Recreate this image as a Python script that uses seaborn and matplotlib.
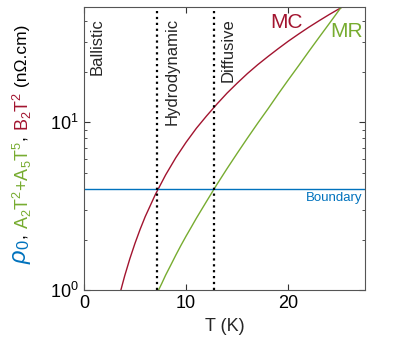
import matplotlib
matplotlib.use('Agg')
import matplotlib.pyplot as plt
import seaborn as sns
import pandas as pd

# values
t_mc = [3.6, 3.8, 4, 4.5, 5, 5.5, 6, 7, 8, 9, 10, 11, 12, 13, 14, 15, 16, 17, 18, 19, 20,
        21, 22, 23, 24, 25, 26]
mc = [0.99, 1.10, 1.22, 1.54, 1.9, 2.30, 2.74, 3.72, 4.86, 6.16, 7.6, 9.2, 10.9, 12.8, 14.9,
      17.1, 19.5, 22.0, 24.6, 27.4, 30.4, 33.5, 36.8, 40.2, 43.8, 47.5, 51.4]
t_mr = [7.3, 7.6, 8, 8.5, 9, 9.5, 10, 10.5, 11, 11.5, 12, 12.7, 13, 14, 15, 16, 17, 18, 19,
        20, 21, 22, 23, 24, 25, 26]
mr = [1.0, 1.09, 1.23, 1.41, 1.62, 1.85, 2.10, 2.37, 2.68, 3.01, 3.38, 3.97, 4.25, 5.29, 6.54,
      8.05, 9.86, 12.0, 14.7, 17.9, 21.7, 26.4, 32.0, 38.7, 46.9, 56.7]
boundary = 4.0
regime_edges = [7.2, 12.7]
regime_names = ['Ballistic', 'Hydrodynamic', 'Diffusive']
regime_x = [1.3, 8.6, 14.1]

c_red = '#A2142F'
c_green = '#77AC30'
c_blue = '#0072BD'

sns.set_style('ticks')
plt.rcParams['font.family'] = ['Liberation Sans', 'DejaVu Sans']
plt.rcParams['mathtext.fontset'] = 'custom'
plt.rcParams['mathtext.rm'] = 'Liberation Sans'
plt.rcParams['mathtext.it'] = 'Liberation Sans:italic'

fig = plt.figure(figsize=(4.07, 3.53), dpi=100)
ax = fig.add_axes([0.206, 0.178, 0.691, 0.802])

df_mc = pd.DataFrame({'T': t_mc, 'v': mc})
df_mr = pd.DataFrame({'T': t_mr, 'v': mr})
sns.lineplot(data=df_mc, x='T', y='v', color=c_red, lw=1, ax=ax)
sns.lineplot(data=df_mr, x='T', y='v', color=c_green, lw=1, ax=ax)
ax.axhline(boundary, color=c_blue, lw=1)
for xe in regime_edges:
    ax.axvline(xe, color='black', ls=':', lw=1.6)

ax.set_yscale('log')
ax.set_xlim(0, 27.5)
ax.set_ylim(1, 48.5)
ax.set_xticks([0, 10, 20])

trans = ax.get_xaxis_transform()
for name, xp in zip(regime_names, regime_x):
    ax.text(xp, 0.962, name, rotation=90, ha='center', va='top', fontsize=12, transform=trans)

ax.text(19.8, 39.4, 'MC', color=c_red, fontsize=15, ha='center', va='center')
ax.text(25.7, 34.7, 'MR', color=c_green, fontsize=15, ha='center', va='center')
ax.text(27.2, 3.85, 'Boundary', color=c_blue, fontsize=9.5, ha='right', va='top')

ax.set_xlabel('T (K)', fontsize=13)
ax.set_ylabel('')
ax.tick_params(direction='in', which='both', top=True, right=True, labelsize=13, colors='#333333')
ax.tick_params(which='major', length=4)
ax.tick_params(which='minor', length=2.5)
ax.tick_params(labelcolor='black')
for s in ax.spines.values():
    s.set_color('#555555')
    s.set_linewidth(0.8)

# multicoloured y label built piece by piece from bottom to top
pieces = [(r'$\rho_\mathrm{0}$', c_blue, 17), (', ', 'black', 13),
          (r'$\mathrm{A_2T^2{+}A_5T^5}$', c_green, 13), (', ', 'black', 13),
          (r'$\mathrm{B_2T^2}$', c_red, 13), (' (n\u03a9.cm)', 'black', 12.5)]
fig.canvas.draw()
renderer = fig.canvas.get_renderer()
ypos = 89
for txt, col, fs in pieces:
    t = fig.text(22 / 407, ypos / 353, txt, color=col, fontsize=fs, rotation=90,
                 ha='center', va='bottom')
    bb = t.get_window_extent(renderer)
    ypos += bb.height
plt.savefig('out.png', dpi=100)
